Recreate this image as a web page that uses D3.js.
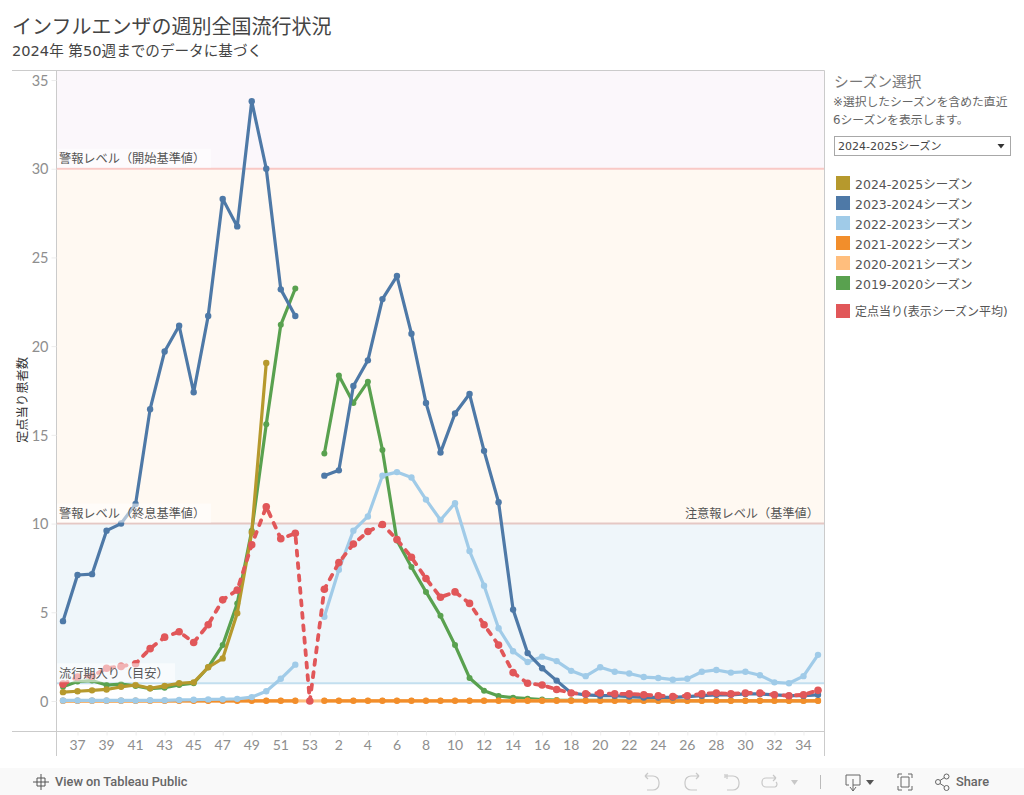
<!DOCTYPE html>
<html>
<head>
<meta charset="utf-8">
<script src="https://cdnjs.cloudflare.com/ajax/libs/d3/7.8.5/d3.min.js"></script>
<style>
  html, body { margin: 0; padding: 0; background: #fff; overflow: hidden; }
  svg { display: block; font-family: "DejaVu Sans", "Noto Sans CJK JP", sans-serif; }
  .axis text { font-family: "Lato", sans-serif; fill: #8e8e8e; }
</style>
</head>
<body>
<svg id="chart" width="1024" height="795"></svg>
<script>
// week axis: season runs wk36 .. wk53, wk1 .. wk35
const weeks = [36,37,38,39,40,41,42,43,44,45,46,47,48,49,50,51,52,53,
  1,2,3,4,5,6,7,8,9,10,11,12,13,14,15,16,17,18,19,20,21,22,23,24,25,26,27,28,29,30,31,32,33,34,35];
const xTickLabels = [37,39,41,43,45,47,49,51,53,2,4,6,8,10,12,14,16,18,20,22,24,26,28,30,32,34];
const yTickLabels = [0,5,10,15,20,25,30,35];

const s2425 = [0.5,0.55,0.6,0.65,0.8,0.9,0.72,0.85,1.0,1.05,1.9,2.4,4.95,9.5,19.05];
const s2324 = [4.5,7.1,7.15,9.6,10.0,11.1,16.45,19.7,21.15,17.4,21.7,28.3,26.75,33.8,30.0,23.2,21.7,null,
  12.7,13.0,17.75,19.2,22.65,23.95,20.7,16.8,14.0,16.2,17.3,14.1,11.2,5.15,2.7,1.85,1.15,0.45,
  0.35,0.3,0.3,0.25,0.2,0.2,0.2,0.25,0.3,0.35,0.35,0.4,0.4,0.35,0.3,0.3,0.35];
const s2223 = [0.03,0.03,0.03,0.03,0.03,0.03,0.04,0.04,0.06,0.07,0.09,0.1,0.12,0.22,0.55,1.25,2.05,null,
  4.75,7.4,9.6,10.4,12.7,12.9,12.6,11.35,10.2,11.15,8.45,6.5,4.1,2.8,2.2,2.5,2.25,1.7,
  1.4,1.9,1.65,1.55,1.35,1.3,1.2,1.25,1.65,1.75,1.6,1.65,1.45,1.05,1.0,1.4,2.6];
const s2122 = [0.01,0.01,0.01,0.01,0.01,0.01,0.01,0.01,0.01,0.01,0.01,0.01,0.01,0.01,0.01,0.01,0.01,null,
  0.01,0.01,0.01,0.01,0.01,0.01,0.01,0.01,0.01,0.01,0.01,0.01,0.01,0.01,0.01,0.01,0.01,0.01,
  0.01,0.01,0.01,0.01,0.01,0.01,0.01,0.01,0.01,0.01,0.01,0.01,0.01,0.01,0.01,0.01,0.01];
const s2021 = [0.01,0.01,0.01,0.01,0.01,0.01,0.01,0.01,0.01,0.01,0.01,0.01,0.01,0.01,0.01,0.01,0.01,0.0,
  0.01,0.01,0.01,0.01,0.01,0.01,0.01,0.01,0.01,0.01,0.01,0.01,0.01,0.01,0.01,0.01,0.01,0.01,
  0.01,0.01,0.01,0.01,0.01,0.01,0.01,0.01,0.01,0.01,0.01,0.01,0.01,0.01,0.01,0.01,0.01];
const s1920 = [0.8,1.1,1.15,0.9,0.95,0.85,0.7,0.75,0.9,1.0,1.9,3.15,5.5,9.6,15.6,21.2,23.25,null,
  13.95,18.35,16.8,18.0,14.15,9.05,7.55,6.15,4.8,3.15,1.3,0.58,0.28,0.19,0.13,0.08,0.05,0.04,
  0.03,0.03,0.03,0.03,0.02,0.02,0.02,0.02,0.02,0.02,0.02,0.02,0.02,0.02,0.02,0.02,0.02];
const avg = [0.95,1.35,1.4,1.85,1.95,2.1,2.95,3.6,3.9,3.3,4.3,5.7,6.25,8.8,10.95,9.15,9.45,0.0,
  6.3,7.8,8.85,9.55,9.95,9.1,8.1,6.9,5.85,6.15,5.5,4.3,3.15,1.6,1.0,0.9,0.65,0.45,
  0.4,0.45,0.4,0.4,0.35,0.3,0.25,0.3,0.4,0.45,0.4,0.45,0.45,0.35,0.3,0.35,0.6];

const legendNames = ["2024-2025シーズン","2023-2024シーズン","2022-2023シーズン","2021-2022シーズン","2020-2021シーズン","2019-2020シーズン"];
const legendColors = ["#b6992d","#4e79a7","#a0cbe8","#f28e2b","#ffbe7d","#59a14f"];

const svg = d3.select("#chart");

// layout
const plotL = 56.5, plotR = 824.5, plotT = 70.5, plotB = 731.5, axisB = 756;

const x = d3.scalePoint().domain(d3.range(weeks.length)).range([63, 818]);
const y = d3.scaleLinear().domain([0, 35]).range([701, 80]);

// bands
const bands = [
  {from: 30, to: y.invert(plotT), color: "#fbf7fb"},
  {from: 10, to: 30, color: "#fff9f2"},
  {from: 1, to: 10, color: "#eff6fa"}
];
svg.selectAll("rect.band").data(bands).enter().append("rect")
  .attr("class", "band")
  .attr("x", plotL).attr("width", plotR - plotL)
  .attr("y", d => y(d.to)).attr("height", d => y(d.from) - y(d.to))
  .attr("fill", d => d.color);

// reference lines
svg.selectAll("line.ref").data([{v: 30, c: "#f9c9c6"}, {v: 10, c: "#e5c8c4"}, {v: 1, c: "#c3dfef"}]).enter().append("line")
  .attr("class", "ref")
  .attr("x1", plotL).attr("x2", plotR)
  .attr("y1", d => y(d.v)).attr("y2", d => y(d.v))
  .attr("stroke", d => d.c).attr("stroke-width", 2);

// frame
const frame = "#cbcbcb";
[[12, plotT, plotR, plotT], [12, plotB, plotR, plotB], [plotL, plotT, plotL, axisB], [plotR, plotT, plotR, axisB]].forEach(l => {
  svg.append("line").attr("x1", l[0]).attr("y1", l[1]).attr("x2", l[2]).attr("y2", l[3]).attr("stroke", frame);
});

// axes
const yAxis = svg.append("g").attr("class", "axis").attr("transform", `translate(${plotL},0)`)
  .call(d3.axisLeft(y).tickValues(yTickLabels).tickSize(5).tickPadding(3));
yAxis.select(".domain").remove();
yAxis.selectAll("line").attr("stroke", "#ececec");
yAxis.selectAll("text").style("font-size", "14.5px").attr("dy", "0.36em");

const xAxis = svg.append("g").attr("class", "axis").attr("transform", `translate(0,${plotB})`)
  .call(d3.axisBottom(x)
    .tickValues(d3.range(weeks.length).filter(i => xTickLabels.includes(weeks[i])))
    .tickFormat(i => weeks[i]).tickSize(4).tickPadding(5));
xAxis.select(".domain").remove();
xAxis.selectAll("line").attr("stroke", "#efefef");
xAxis.selectAll("text").style("font-size", "14px").attr("dx", "-0.5");

svg.append("text").text("定点当り患者数")
  .attr("transform", "translate(27,400) rotate(-90)")
  .attr("text-anchor", "middle").attr("font-size", 12.3).attr("fill", "#333");

// series
const line = d3.line().defined(d => d != null).x((d, i) => x(i)).y(d => y(d));

function drawSeries(values, color, width, r, dash) {
  const g = svg.append("g");
  g.append("path").datum(values)
    .attr("d", line).attr("fill", "none")
    .attr("stroke", color).attr("stroke-width", width)
    .attr("stroke-linejoin", "round")
    .attr("stroke-linecap", dash ? "round" : null)
    .attr("stroke-dasharray", dash || null);
  g.selectAll("circle").data(values.map((v, i) => ({v, i})).filter(d => d.v != null)).enter().append("circle")
    .attr("cx", d => x(d.i)).attr("cy", d => y(d.v)).attr("r", r).attr("fill", color);
}

drawSeries(s1920, legendColors[5], 3.2, 3);
drawSeries(s2021, legendColors[4], 3.2, 3);
drawSeries(s2122, legendColors[3], 3.2, 3.2);
drawSeries(s2223, legendColors[2], 3.2, 3.2);
drawSeries(s2324, legendColors[1], 3.2, 3.2);
drawSeries(s2425, legendColors[0], 3.2, 3.2);
drawSeries(avg, "#e15759", 3.8, 3.8, "5,7.5");

// threshold labels sit above the marks on a see-through white box
const refLabels = [
  {text: "警報レベル（開始基準値）", v: 30, x: 59, anchor: "start", w: 154},
  {text: "警報レベル（終息基準値）", v: 10, x: 59, anchor: "start", w: 154},
  {text: "注意報レベル（基準値）", v: 10, x: 819, anchor: "end", w: 0},
  {text: "流行期入り（目安）", v: 1, x: 59, anchor: "start", w: 118}
];
svg.selectAll("rect.lb").data(refLabels.filter(d => d.w)).enter().append("rect")
  .attr("class", "lb")
  .attr("x", plotL + 0.5).attr("width", d => d.w)
  .attr("y", d => y(d.v) - 20).attr("height", 19)
  .attr("fill", "#fff").attr("opacity", 0.55);
svg.selectAll("text.lb").data(refLabels).enter().append("text")
  .attr("class", "lb").text(d => d.text)
  .attr("x", d => d.x).attr("y", d => y(d.v) - 5.5)
  .attr("text-anchor", d => d.anchor)
  .attr("font-size", 12.2).attr("fill", "#555");

// titles
svg.append("text").text("インフルエンザの週別全国流行状況").attr("x", 12).attr("y", 34).attr("font-size", 20).attr("fill", "#444");
svg.append("text").text("2024年 第50週までのデータに基づく").attr("x", 12).attr("y", 56).attr("font-size", 14.6).attr("fill", "#444");

// season selector
svg.append("text").text("シーズン選択").attr("x", 834).attr("y", 87).attr("font-size", 14.7).attr("fill", "#777");
svg.append("text").text("※選択したシーズンを含めた直近").attr("x", 833).attr("y", 106).attr("font-size", 11.8).attr("fill", "#666");
svg.append("text").text("6シーズンを表示します。").attr("x", 833).attr("y", 124).attr("font-size", 11.8).attr("fill", "#666");
svg.append("rect").attr("x", 834.5).attr("y", 136.5).attr("width", 176).attr("height", 19).attr("fill", "#fff").attr("stroke", "#a8a8a8");
svg.append("text").text(legendNames[0]).attr("x", 838).attr("y", 149.5).attr("font-size", 11).attr("fill", "#444");
svg.append("path").attr("d", "M997.5 144h7l-3.5 4.5z").attr("fill", "#333");

// legend
svg.selectAll("rect.sw").data(legendNames).enter().append("rect")
  .attr("class", "sw").attr("x", 836).attr("y", (d, i) => 176 + i * 20)
  .attr("width", 14).attr("height", 14).attr("fill", (d, i) => legendColors[i]);
svg.selectAll("text.sw").data(legendNames).enter().append("text")
  .attr("class", "sw").text(d => d).attr("x", 855).attr("y", (d, i) => 188.5 + i * 20)
  .attr("font-size", 12.5).attr("fill", "#555");
svg.append("rect").attr("x", 836).attr("y", 304).attr("width", 14).attr("height", 14).attr("fill", "#e15759");
svg.append("text").text("定点当り(表示シーズン平均)").attr("x", 855).attr("y", 315.5).attr("font-size", 12).attr("fill", "#555");

// tableau toolbar
svg.append("rect").attr("x", 0).attr("y", 768).attr("width", 1024).attr("height", 27).attr("fill", "#f9f9f9");
const bar = svg.append("g").attr("fill", "none").attr("stroke", "#666").attr("stroke-width", 1);
bar.append("path").attr("d", "M41 774v16M33 782h16M37 778v8M45 778v8M37 778h8M37 786h8").attr("stroke", "#555");
svg.append("text").text("View on Tableau Public").attr("x", 55).attr("y", 786).attr("font-size", 12.8).attr("fill", "#666")
  .style("font-family", "Roboto, sans-serif").style("font-weight", 500);
const fade = svg.append("g").attr("fill", "none").attr("stroke", "#c8c8c8").attr("stroke-width", 1.2);
fade.append("path").attr("d", "M645 776h8a6 6 0 0 1 6 6v2a6 6 0 0 1 -6 6h-6M645 776l3-3M645 776l3 3");
fade.append("path").attr("d", "M699 776h-8a6 6 0 0 0 -6 6v2a6 6 0 0 0 6 6h6M699 776l-3-3M699 776l-3 3");
fade.append("path").attr("d", "M725 776h8a6 6 0 0 1 6 6v2a6 6 0 0 1 -6 6h-6M725 774v4M727 774v5");
fade.append("path").attr("d", "M776 778h-10a4 4 0 0 0 -4 4v1a4 4 0 0 0 4 4h9a3 3 0 0 0 1-5M776 778l-3-3M776 778l-3 3");
svg.append("path").attr("d", "M791 780h7l-3.5 5z").attr("fill", "#c8c8c8");
svg.append("line").attr("x1", 820.5).attr("x2", 820.5).attr("y1", 775).attr("y2", 789).attr("stroke", "#bbb");
bar.append("path").attr("d", "M846 775h14v10h-7M853 779v12M850 787l3 4 3-4M846 775v10h3");
svg.append("path").attr("d", "M866 780h8l-4 5z").attr("fill", "#555");
bar.append("path").attr("d", "M898 778v-4h4M908 774h4v4M912 786v4h-4M902 790h-4v-4M901 777h8v10h-8z");
bar.append("circle").attr("cx", 938).attr("cy", 782).attr("r", 2.5);
bar.append("circle").attr("cx", 946.5).attr("cy", 776.5).attr("r", 2.5);
bar.append("circle").attr("cx", 946.5).attr("cy", 788).attr("r", 2.5);
bar.append("path").attr("d", "M940 780.5l4.5-3M940 783.5l4.5 3");
svg.append("text").text("Share").attr("x", 956).attr("y", 786).attr("font-size", 12.8).attr("fill", "#666")
  .style("font-family", "Roboto, sans-serif").style("font-weight", 500);
</script>
</body>
</html>
